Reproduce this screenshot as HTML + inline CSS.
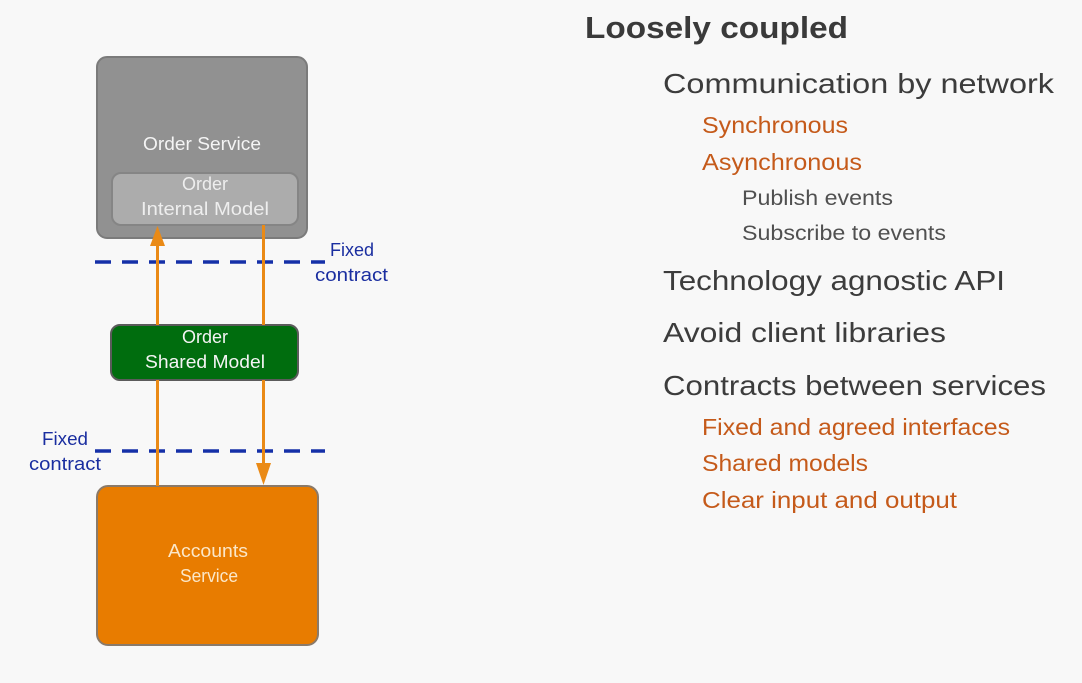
<!DOCTYPE html>
<html><head><meta charset="utf-8"><style>
html,body{margin:0;padding:0;background:#f8f8f8;}
svg{display:block;font-family:"Liberation Sans",sans-serif;}
</style></head><body>
<svg width="1082" height="683" viewBox="0 0 1082 683" xmlns="http://www.w3.org/2000/svg">
<rect width="1082" height="683" fill="#f8f8f8"/>
<!-- Order service -->
<rect x="97" y="57" width="210" height="181" rx="10" fill="#919191" stroke="#7b7b7b" stroke-width="2"/>
<rect x="112" y="173" width="186" height="52" rx="9" fill="#acacac" stroke="#858585" stroke-width="2"/>
<!-- shared -->
<rect x="111" y="325" width="187" height="55" rx="9" fill="#006d0e" stroke="#5b5b5b" stroke-width="2"/>
<!-- accounts -->
<rect x="97" y="486" width="221" height="159" rx="11" fill="#e87c00" stroke="#8a7a6a" stroke-width="2"/>
<!-- dashed -->
<line x1="95" y1="262" x2="325" y2="262" stroke="#1530a8" stroke-width="3.5" stroke-dasharray="16,11"/>
<line x1="95" y1="451" x2="325" y2="451" stroke="#1530a8" stroke-width="3.5" stroke-dasharray="16,11"/>
<!-- arrows -->
<g fill="#ea8a16" stroke="none">
<rect x="156" y="238" width="3" height="87"/>
<rect x="156" y="380" width="3" height="106"/>
<polygon points="157.5,226 150,246 165,246"/>
<rect x="262" y="225" width="3" height="100"/>
<rect x="262" y="380" width="3" height="86"/>
<polygon points="263.5,485 256,463 271,463"/>
</g>
<g fill="#f4f4f4" font-size="18" text-anchor="middle">
<text x="202" y="150" textLength="118" lengthAdjust="spacingAndGlyphs">Order Service</text>
<text x="205" y="190" fill="#eeeeee">Order</text>
<text x="205" y="215" fill="#eeeeee" textLength="128" lengthAdjust="spacingAndGlyphs">Internal Model</text>
<text x="205" y="343">Order</text>
<text x="205" y="368" textLength="120" lengthAdjust="spacingAndGlyphs">Shared Model</text>
<text x="208" y="557" fill="#fbe7c8" textLength="80" lengthAdjust="spacingAndGlyphs">Accounts</text>
<text x="209" y="582" fill="#fbe7c8" textLength="58" lengthAdjust="spacingAndGlyphs">Service</text>
</g>
<g fill="#1a2ea0" font-size="18">
<text x="330" y="256" textLength="44" lengthAdjust="spacingAndGlyphs">Fixed</text>
<text x="315" y="281" textLength="73" lengthAdjust="spacingAndGlyphs">contract</text>
<text x="42" y="445" textLength="46" lengthAdjust="spacingAndGlyphs">Fixed</text>
<text x="29" y="470" textLength="72" lengthAdjust="spacingAndGlyphs">contract</text>
</g>
<!-- right text -->
<text x="585" y="38" font-size="31" font-weight="bold" fill="#3a3a3a" textLength="263" lengthAdjust="spacingAndGlyphs">Loosely coupled</text>
<g fill="#3c3c3c" font-size="28">
<text x="663" y="93" textLength="391" lengthAdjust="spacingAndGlyphs">Communication by network</text>
<text x="663" y="290" textLength="342" lengthAdjust="spacingAndGlyphs">Technology agnostic API</text>
<text x="663" y="342" textLength="283" lengthAdjust="spacingAndGlyphs">Avoid client libraries</text>
<text x="663" y="395" textLength="383" lengthAdjust="spacingAndGlyphs">Contracts between services</text>
</g>
<g fill="#c55a1a" font-size="23">
<text x="702" y="133" textLength="146" lengthAdjust="spacingAndGlyphs">Synchronous</text>
<text x="702" y="170" textLength="160" lengthAdjust="spacingAndGlyphs">Asynchronous</text>
<text x="702" y="435" textLength="308" lengthAdjust="spacingAndGlyphs">Fixed and agreed interfaces</text>
<text x="702" y="471" textLength="166" lengthAdjust="spacingAndGlyphs">Shared models</text>
<text x="702" y="508" textLength="255" lengthAdjust="spacingAndGlyphs">Clear input and output</text>
</g>
<g fill="#505050" font-size="21">
<text x="742" y="205" textLength="151" lengthAdjust="spacingAndGlyphs">Publish events</text>
<text x="742" y="240" textLength="204" lengthAdjust="spacingAndGlyphs">Subscribe to events</text>
</g>
</svg>
</body></html>
